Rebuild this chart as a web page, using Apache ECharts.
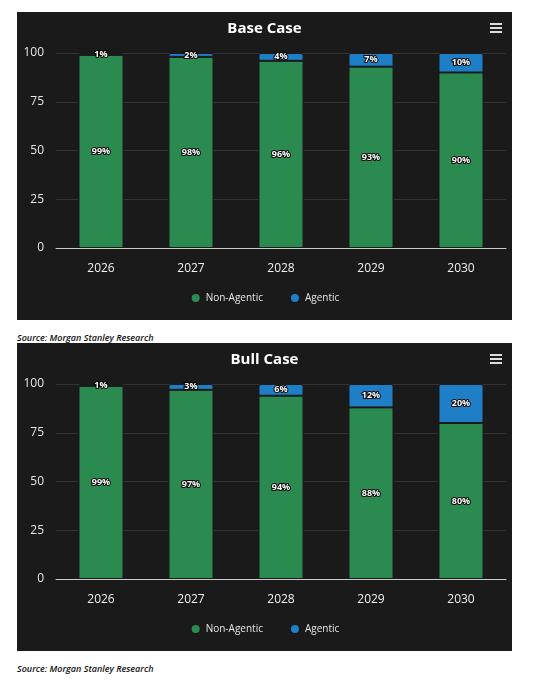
<!DOCTYPE html>
<html>
<head>
<meta charset="utf-8">
<script src="https://cdn.jsdelivr.net/npm/echarts@6/dist/echarts.min.js"></script>
<style>
  body { margin: 0; background: #fff; width: 550px; height: 684px; position: relative; font-family: "Open Sans", sans-serif; }
  .panel { position: absolute; left: 17px; width: 495px; height: 308px; background: #1a1a1a; }
  .source { position: absolute; left: 17px; font-size: 9px; font-style: italic; font-weight: 600; color: #111; }
</style>
</head>
<body>
<div class="panel" id="base-chart" style="top:12px"></div>
<div class="source" style="top:331px">Source: Morgan Stanley Research</div>
<div class="panel" id="bull-chart" style="top:343px"></div>
<div class="source" style="top:662px">Source: Morgan Stanley Research</div>
<script>
var years = ['2026', '2027', '2028', '2029', '2030'];
var yTicks = [0, 25, 50, 75, 100];

var baseNonAgentic = [99, 98, 96, 93, 90];
var baseAgentic = [1, 2, 4, 7, 10];

var bullNonAgentic = [99, 97, 94, 88, 80];
var bullAgentic = [1, 3, 6, 12, 20];

var GREEN = '#2b8a50';
var BLUE = '#1e7ec6';

function makeOption(title, nonAgentic, agentic) {
	var label = {
		show: true,
		position: 'inside',
		formatter: '{c}%',
		color: '#fff',
		fontSize: 9,
		fontWeight: 'bold',
		textBorderColor: '#000',
		textBorderWidth: 2
	};
	return {
		backgroundColor: '#1a1a1a',
		textStyle: { fontFamily: '"Open Sans", sans-serif' },
		title: {
			text: title,
			left: 'center',
			top: 4,
			textStyle: { color: '#fff', fontSize: 15, fontWeight: 'bold' }
		},
		toolbox: {
			right: 10,
			top: 11,
			padding: 0,
			itemSize: 12,
			feature: {
				myMenu: {
					show: true,
					title: 'Menu',
					icon: 'path://M0,0H12V2H0Z M0,4H12V6H0Z M0,8H12V10H0Z',
					onclick: function () {}
				}
			},
			iconStyle: { color: '#ddd', borderColor: '#ddd', borderWidth: 0 }
		},
		legend: {
			bottom: 11,
			itemGap: 26,
			icon: 'circle',
			itemWidth: 10,
			itemHeight: 10,
			textStyle: { color: '#e6e6e6', fontSize: 10 },
			data: ['Non-Agentic', 'Agentic']
		},
		grid: {
			left: 39,
			right: 6,
			top: 41,
			bottom: 72
		},
		xAxis: {
			type: 'category',
			data: years,
			axisTick: { show: false },
			axisLine: { lineStyle: { color: '#ccc', width: 1 } },
			axisLabel: { color: '#f0f0f0', fontSize: 12, margin: 15 }
		},
		yAxis: {
			type: 'value',
			min: 0,
			max: 100,
			interval: 25,
			axisLine: { show: false },
			axisLabel: {
				color: '#e6e6e6',
				fontSize: 12,
				margin: 12,
				formatter: function (v) { return yTicks.indexOf(v) >= 0 ? String(v) : ''; }
			},
			splitLine: { lineStyle: { color: '#333' } }
		},
		series: [
			{
				name: 'Non-Agentic',
				type: 'bar',
				stack: 'total',
				barWidth: '50%',
				color: GREEN,
				itemStyle: { borderColor: '#1a1a1a', borderWidth: 1 },
				label: label,
				data: nonAgentic
			},
			{
				name: 'Agentic',
				type: 'bar',
				stack: 'total',
				color: BLUE,
				itemStyle: { borderColor: '#1a1a1a', borderWidth: 1, borderRadius: [2, 2, 0, 0] },
				label: label,
				data: agentic
			}
		]
	};
}

var baseChart = echarts.init(document.getElementById('base-chart'), null, { renderer: 'canvas' });
baseChart.setOption(makeOption('Base Case', baseNonAgentic, baseAgentic));

var bullChart = echarts.init(document.getElementById('bull-chart'), null, { renderer: 'canvas' });
bullChart.setOption(makeOption('Bull Case', bullNonAgentic, bullAgentic));

window.addEventListener('resize', function () {
	baseChart.resize();
	bullChart.resize();
});
</script>
</body>
</html>
